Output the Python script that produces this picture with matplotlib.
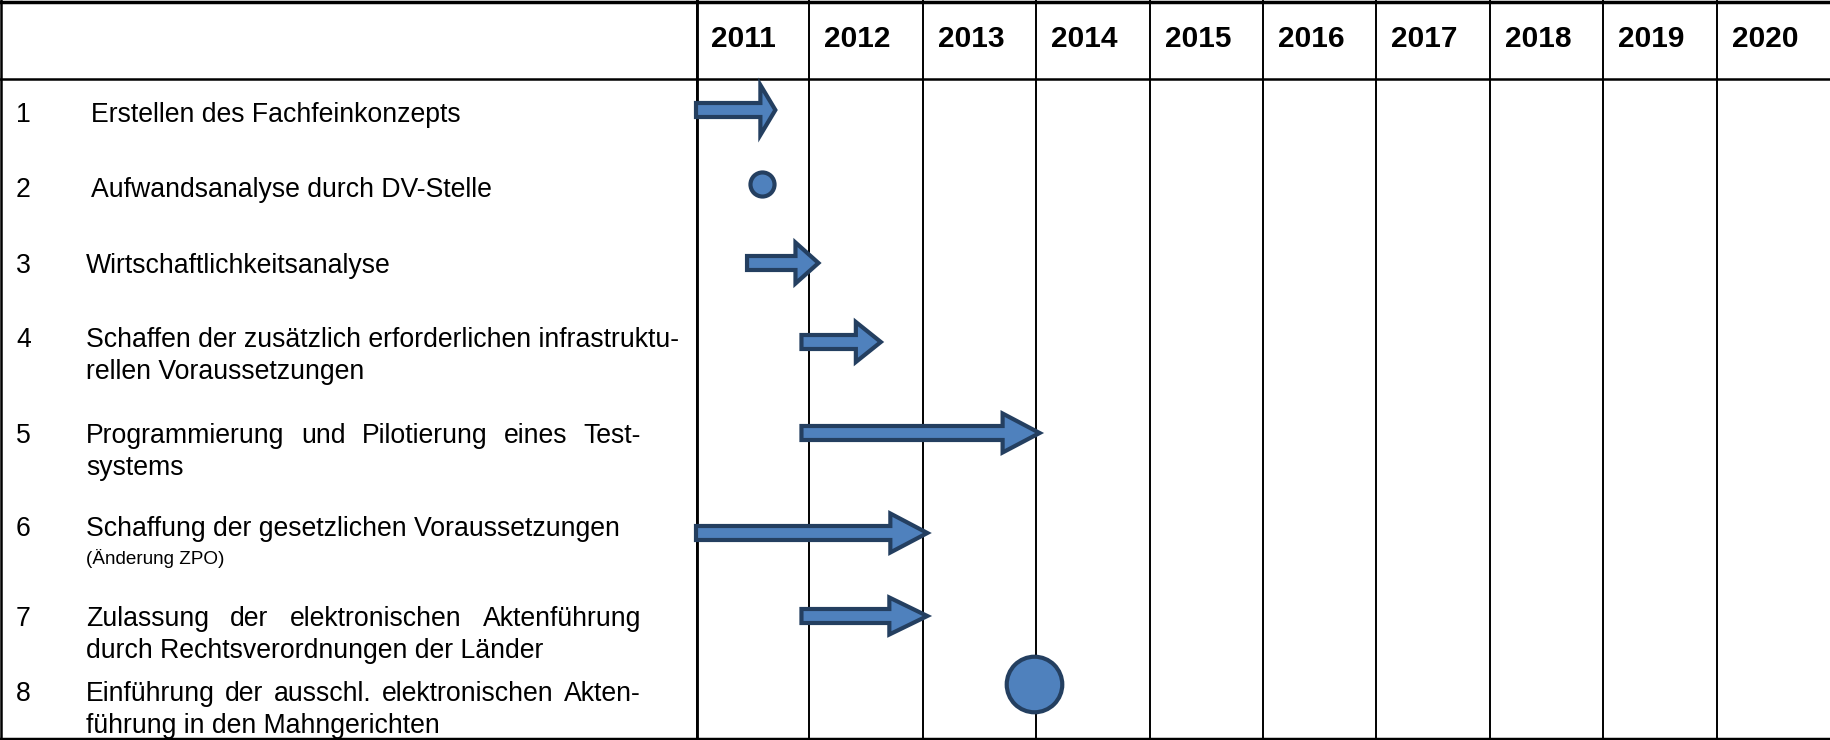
import matplotlib
matplotlib.use('Agg')
import matplotlib.pyplot as plt
from matplotlib.patches import FancyArrow

plt.rcParams['font.family'] = ['Liberation Sans', 'DejaVu Sans']

# --- data ---
years = list(range(2011, 2021))
task_numbers = ['1', '2', '3', '4', '5', '6', '7', '8']
task_lines = [
    ['Erstellen des Fachfeinkonzepts'],
    ['Aufwandsanalyse durch DV-Stelle'],
    ['Wirtschaftlichkeitsanalyse'],
    ['Schaffen der zusätzlich erforderlichen infrastruktu-', 'rellen Voraussetzungen'],
    ['Programmierung und Pilotierung eines Test-', 'systems'],
    ['Schaffung der gesetzlichen Voraussetzungen', '(Änderung ZPO)'],
    ['Zulassung der elektronischen Aktenführung', 'durch Rechtsverordnungen der Länder'],
    ['Einführung der ausschl. elektronischen Akten-', 'führung in den Mahngerichten'],
]
bar_task = [1, 3, 4, 5, 6, 7]
bar_start = [2011.0, 2011.45, 2011.93, 2011.93, 2011.0, 2011.93]
bar_end = [2011.70, 2012.08, 2012.63, 2014.03, 2013.04, 2013.04]
milestone_task = [2, 8]
milestone_year = [2011.58, 2013.98]

# --- layout (pixels, figure is 1830x740 at dpi 100) ---
W, H = 1830, 740
HEADER_Y = 79
GRID_X0 = 696
COL_W = 113.4
mark_y = [110, 184, 263, 342, 433, 533, 616, 684]
text_y = [115, 190, 266, 340, 436, 529, 619, 694]
text_x = [91, 91, 86, 86, 86, 86, 86, 86]
justified = [False, False, False, False, True, False, True, True]
JUSTIFY_RIGHT = 641
# head width (px), head length (px) per arrow
head_dims = [(50, 15), (41, 23), (40, 25), (39, 37), (39, 37), (37, 38)]
milestone_size = [300, 1600]

FILL = '#4F81BD'
EDGE = '#243F60'
FS = 19.2

fig = plt.figure(figsize=(W / 100, H / 100), dpi=100)
ax = fig.add_axes([0, 0, 1, 1])
ax.set_xlim(0, W)
ax.set_ylim(H, 0)
ax.axis('off')

gx = fig.add_axes([GRID_X0 / W, 0, 10 * COL_W / W, 1])
gx.set_xlim(years[0], years[-1] + 1)
gx.set_ylim(H, 0)
gx.axis('off')
gx.patch.set_alpha(0)

# table lines
ax.axhline(1.5, color='black', lw=2.5)
ax.axhline(H - 1.5, color='black', lw=2.5)
ax.axhline(HEADER_Y, color='black', lw=1.8)
ax.axvline(1, color='black', lw=1.8)
for yr in years[1:]:
    gx.axvline(yr, color='black', lw=1.4)
gx.axvline(years[0], color='black', lw=4.2)

# year headers
for yr in years:
    gx.text(yr + 15 / COL_W, 39, str(yr), fontsize=21.5, fontweight='bold',
            ha='left', va='center')

# task texts
renderer = fig.canvas.get_renderer()
for i, (num, lines) in enumerate(zip(task_numbers, task_lines)):
    ax.text(16, text_y[i], num, fontsize=FS, ha='left', va='center')
    for j, line in enumerate(lines):
        small = (i == 5 and j == 1)
        y = text_y[i] + j * (29 if small else 32)
        fs = 13.6 if small else FS
        if justified[i] and j == 0:
            words = line.split(' ')
            objs = [ax.text(0, y, w, fontsize=fs, ha='left', va='center') for w in words]
            widths = [o.get_window_extent(renderer).width for o in objs]
            gap = (JUSTIFY_RIGHT - text_x[i] - sum(widths)) / (len(words) - 1)
            x = text_x[i]
            for o, w in zip(objs, widths):
                o.set_x(x)
                x += w + gap
        else:
            ax.text(text_x[i], y, line, fontsize=fs, ha='left', va='center')

# arrows
for k, t in enumerate(bar_task):
    y = mark_y[t - 1]
    hw, hl = head_dims[k]
    arr = FancyArrow(bar_start[k], y, bar_end[k] - bar_start[k], 0, width=14,
                     head_width=hw, head_length=hl / COL_W,
                     length_includes_head=True, facecolor=FILL, edgecolor=EDGE,
                     linewidth=3.0, joinstyle='miter', clip_on=False, zorder=3)
    gx.add_patch(arr)

# milestones
for k, t in enumerate(milestone_task):
    gx.scatter([milestone_year[k]], [mark_y[t - 1]], s=milestone_size[k],
               facecolor=FILL, edgecolor=EDGE, linewidth=3.0, zorder=4,
               clip_on=False)

fig.savefig('out.png', dpi=100)
